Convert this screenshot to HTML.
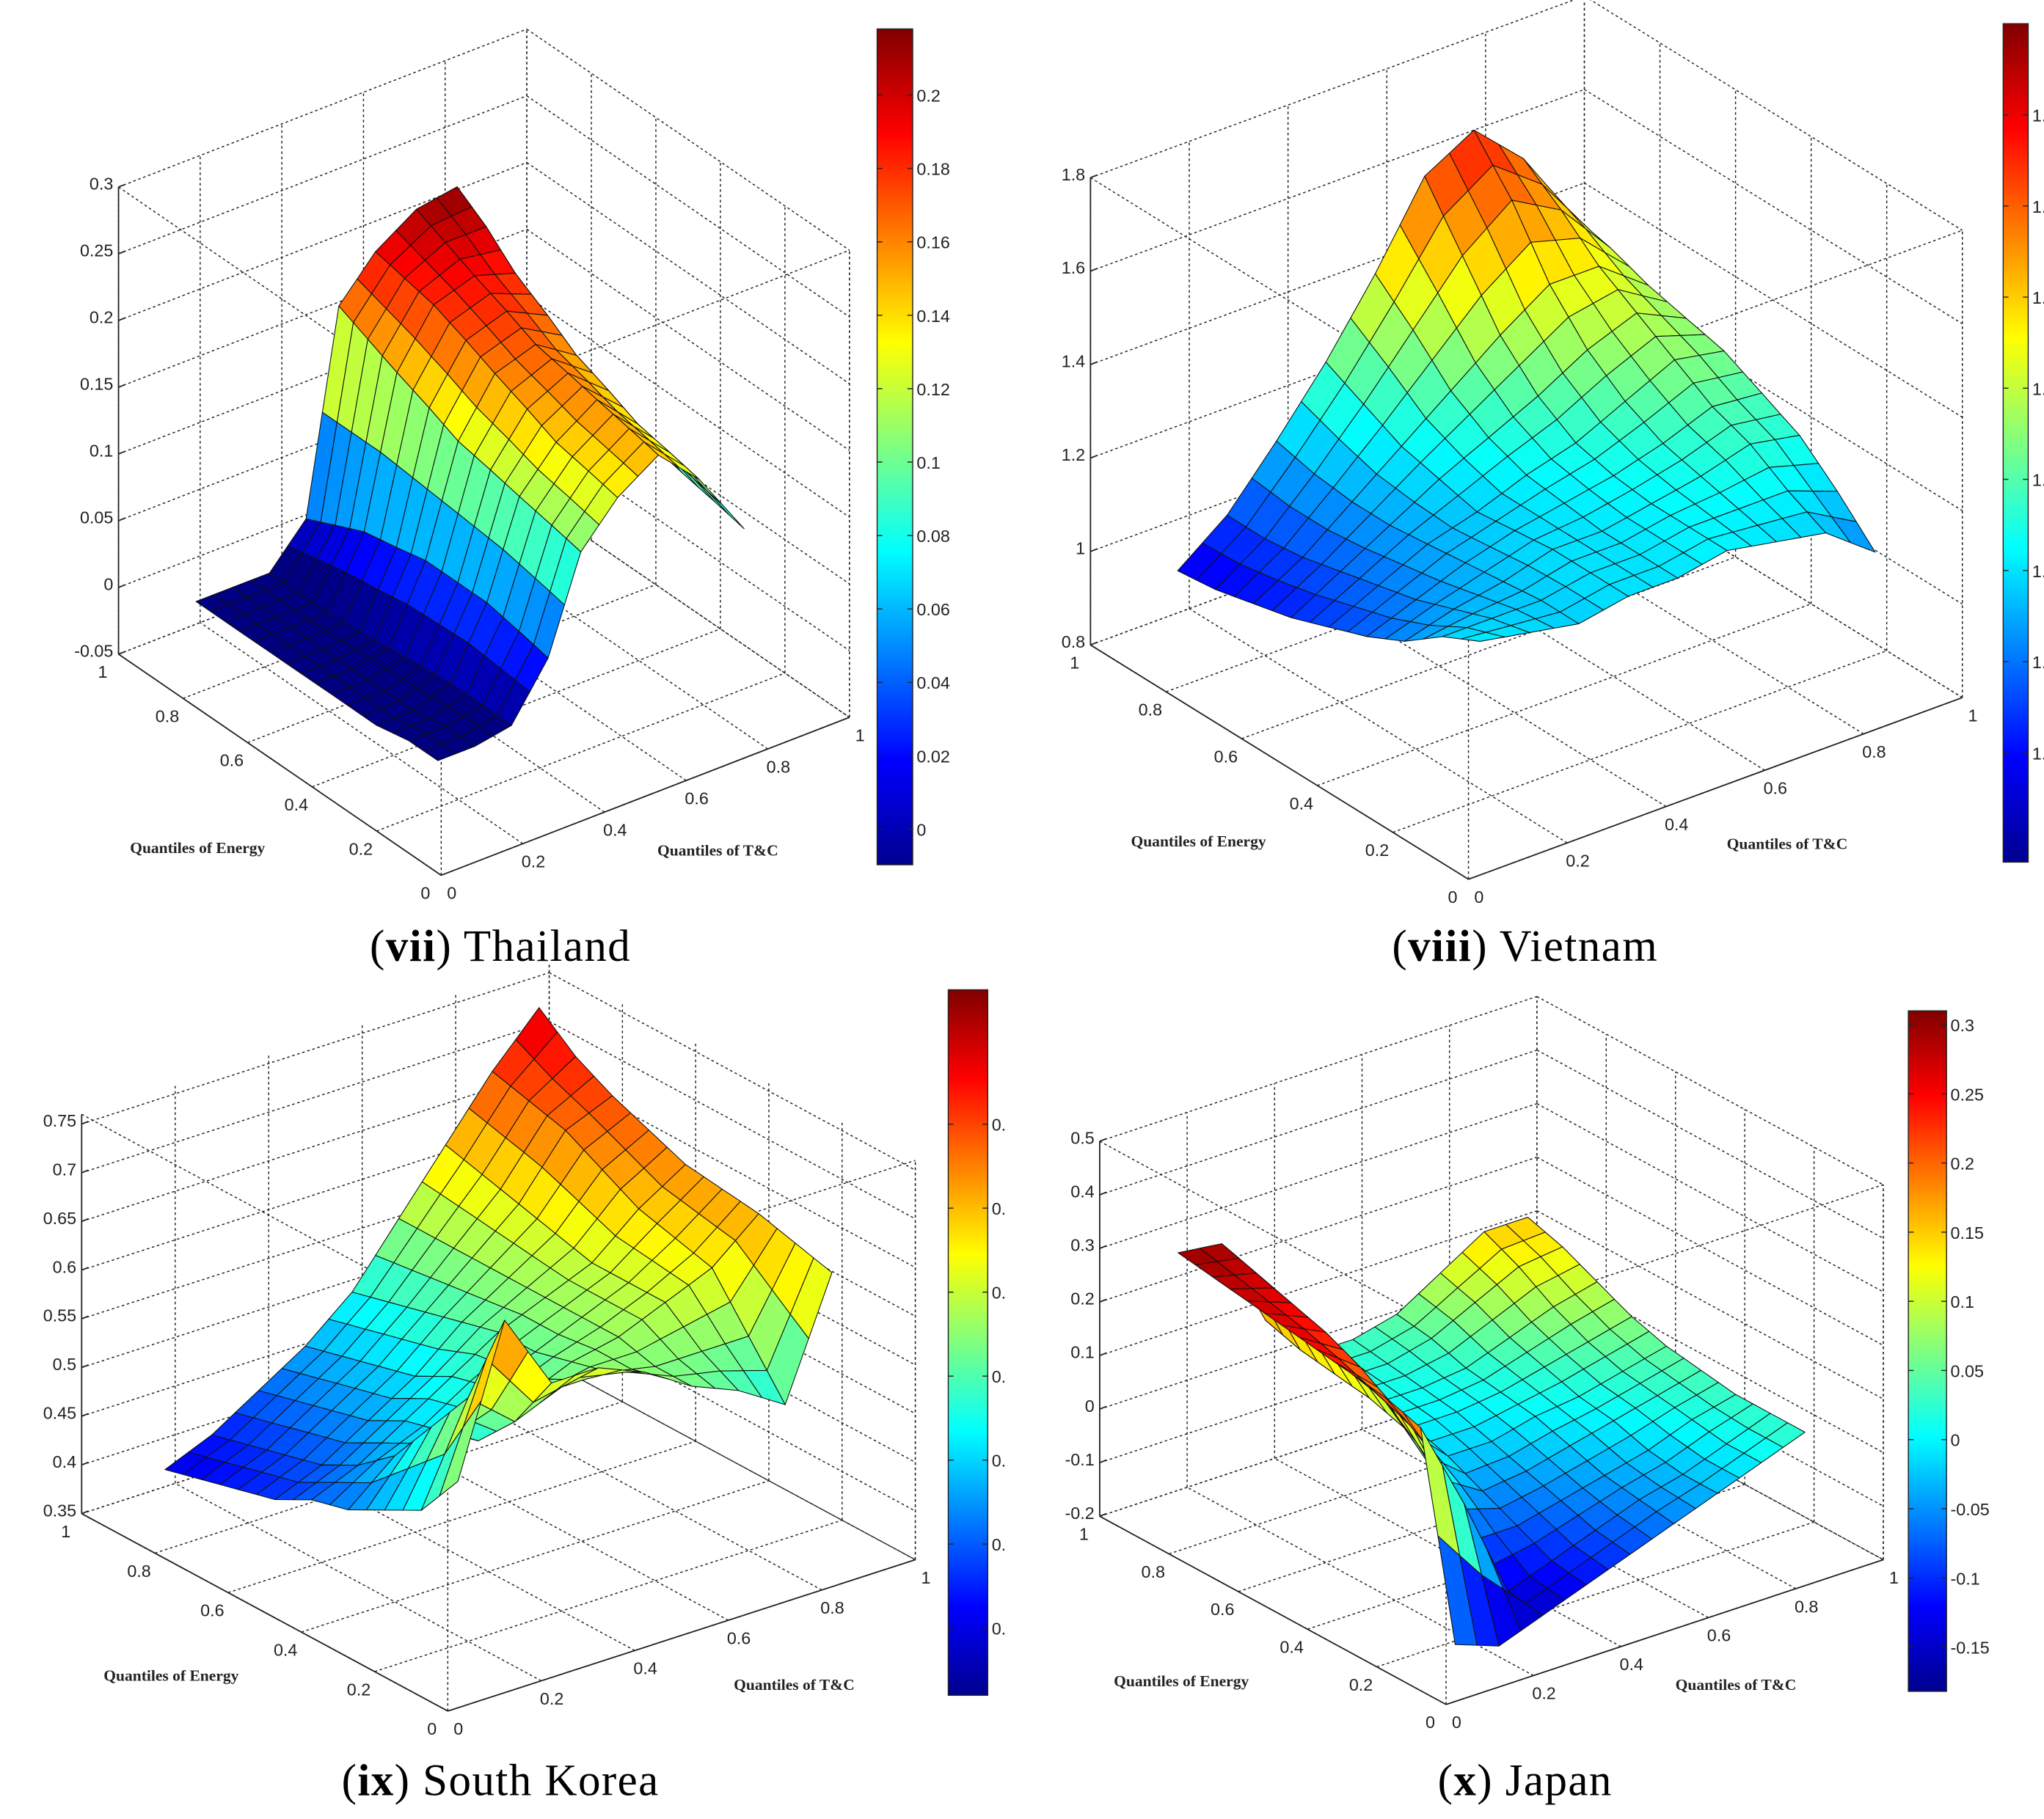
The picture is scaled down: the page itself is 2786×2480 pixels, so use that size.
<!DOCTYPE html>
<html><head><meta charset="utf-8">
<style>
html,body{margin:0;padding:0;background:#fff;}
svg{display:block;}
.tk{font-family:"Liberation Sans",sans-serif;font-size:13px;fill:#222;}
.ti{font-family:"Liberation Serif",serif;font-size:12px;font-weight:bold;fill:#222;}
.cap{font-family:"Liberation Serif",serif;font-size:34px;fill:#000;letter-spacing:0.8px;}
</style></head>
<body>
<svg id="fig" width="2786" height="2480" viewBox="0 0 1552 1382" preserveAspectRatio="none" xmlns="http://www.w3.org/2000/svg">
<defs>
<linearGradient id="jetg" x1="0" y1="1" x2="0" y2="0">
<stop offset="0" stop-color="#00008f"/><stop offset="0.125" stop-color="#0000ff"/>
<stop offset="0.375" stop-color="#00ffff"/><stop offset="0.625" stop-color="#ffff00"/>
<stop offset="0.875" stop-color="#ff0000"/><stop offset="1" stop-color="#800000"/>
</linearGradient>
</defs>
<text class="cap" x="380" y="730" text-anchor="middle">(<tspan font-weight="bold">vii</tspan>) Thailand</text>
<text class="cap" x="1158" y="730" text-anchor="middle">(<tspan font-weight="bold">viii</tspan>) Vietnam</text>
<text class="cap" x="380" y="1364" text-anchor="middle">(<tspan font-weight="bold">ix</tspan>) South Korea</text>
<text class="cap" x="1158" y="1364" text-anchor="middle">(<tspan font-weight="bold">x</tspan>) Japan</text>
</svg>
<script>
// ---------- data ----------
const quantTicks=[0,0.2,0.4,0.6,0.8,1];
const quantTickLabels=['0','0.2','0.4','0.6','0.8','1'];

const thaiEnergyQ=[0.2,0.29,0.39,0.48,0.58,0.67,0.77,0.86,0.95];
const thaiTcQ=[0.15,0.24,0.33,0.42,0.5,0.59,0.69,0.79,0.9];
const thaiZ=[
[-0.015,-0.015,-0.01,0.03,0.10,0.13,0.15,0.12,0.07],
[-0.015,-0.015,-0.01,0.035,0.105,0.135,0.155,0.125,0.075],
[-0.02,-0.02,-0.01,0.04,0.11,0.14,0.16,0.13,0.08],
[-0.02,-0.02,-0.012,0.04,0.115,0.15,0.165,0.14,0.085],
[-0.02,-0.02,-0.015,0.04,0.12,0.16,0.17,0.15,0.09],
[-0.02,-0.02,-0.018,0.035,0.13,0.17,0.18,0.165,0.095],
[-0.02,-0.02,-0.02,0.03,0.14,0.18,0.19,0.18,0.10],
[-0.02,-0.02,-0.02,0.02,0.15,0.185,0.20,0.20,0.11],
[-0.02,-0.02,-0.02,0.01,0.16,0.19,0.21,0.215,0.12]];
const thaiZTicks=[-0.05,0,0.05,0.1,0.15,0.2,0.25,0.3];
const thaiZTickLabels=['-0.05','0','0.05','0.1','0.15','0.2','0.25','0.3'];
const thaiCbarTicks=[0,0.02,0.04,0.06,0.08,0.1,0.12,0.14,0.16,0.18,0.2];
const thaiCbarLabels=['0','0.02','0.04','0.06','0.08','0.1','0.12','0.14','0.16','0.18','0.2'];

const vietEnergyQ=[0.1,0.2,0.3,0.4,0.5,0.6,0.7,0.8,0.9];
const vietTcQ=[0.1,0.2,0.3,0.4,0.5,0.6,0.7,0.8,0.9];
const vietZ=[
[1.22,1.2,1.18,1.2,1.2,1.22,1.2,1.18,1.1],
[1.18,1.18,1.18,1.2,1.2,1.22,1.22,1.22,1.18],
[1.12,1.15,1.17,1.2,1.2,1.22,1.24,1.27,1.25],
[1.08,1.12,1.16,1.19,1.21,1.23,1.26,1.3,1.29],
[1.05,1.1,1.15,1.18,1.22,1.25,1.3,1.35,1.33],
[1.02,1.08,1.14,1.2,1.25,1.3,1.36,1.4,1.35],
[1.0,1.06,1.14,1.22,1.3,1.38,1.45,1.45,1.37],
[0.98,1.05,1.15,1.26,1.38,1.5,1.58,1.52,1.4],
[0.97,1.05,1.17,1.3,1.45,1.62,1.68,1.58,1.42]];
const vietZTicks=[0.8,1,1.2,1.4,1.6,1.8];
const vietZTickLabels=['0.8','1','1.2','1.4','1.6','1.8'];
const vietCbarTicks=[1.0,1.1,1.2,1.3,1.4,1.5,1.6,1.7];
const vietCbarLabels=['1.','1.','1.','1.','1.','1.','1.','1.'];

const korEnergyQ=[0.1,0.2,0.3,0.4,0.5,0.6,0.7,0.8,0.9];
const korTcQ=[0.1,0.2,0.3,0.4,0.5,0.6,0.7,0.8,0.9];
const korZ=[
[0.55,0.70,0.62,0.62,0.6,0.57,0.55,0.52,0.64],
[0.5,0.6,0.56,0.58,0.58,0.57,0.57,0.57,0.65],
[0.48,0.55,0.52,0.55,0.57,0.58,0.6,0.62,0.66],
[0.46,0.5,0.51,0.54,0.56,0.58,0.6,0.63,0.665],
[0.45,0.47,0.5,0.53,0.56,0.58,0.6,0.64,0.67],
[0.43,0.45,0.48,0.51,0.55,0.58,0.61,0.66,0.685],
[0.42,0.44,0.47,0.5,0.54,0.58,0.62,0.68,0.70],
[0.41,0.43,0.46,0.49,0.53,0.58,0.63,0.69,0.72],
[0.40,0.42,0.45,0.48,0.52,0.58,0.64,0.70,0.75]];
const korZTicks=[0.35,0.4,0.45,0.5,0.55,0.6,0.65,0.7,0.75];
const korZTickLabels=['0.35','0.4','0.45','0.5','0.55','0.6','0.65','0.7','0.75'];
const korCbarTicks=[0.4,0.45,0.5,0.55,0.6,0.65,0.7];
const korCbarLabels=['0.','0.','0.','0.','0.','0.','0.'];

const japEnergyQ=[0.1,0.2,0.3,0.4,0.5,0.6,0.7,0.8,0.9];
const japTcQ=[0.1,0.2,0.3,0.4,0.5,0.6,0.7,0.8,0.9];
const japZ=[
[-0.15,-0.18,-0.15,-0.12,-0.09,-0.06,-0.03,0.0,0.03],
[0.22,0.05,-0.14,-0.11,-0.08,-0.05,-0.03,0.0,0.03],
[0.24,0.12,-0.08,-0.08,-0.06,-0.04,-0.02,0.01,0.03],
[0.25,0.16,0.0,-0.05,-0.04,-0.02,0.0,0.02,0.04],
[0.26,0.2,0.06,-0.02,-0.02,0.0,0.01,0.03,0.05],
[0.27,0.23,0.08,0.0,0.0,0.01,0.03,0.05,0.07],
[0.28,0.25,0.09,0.01,0.01,0.02,0.05,0.08,0.1],
[0.29,0.27,0.1,0.02,0.02,0.04,0.08,0.12,0.13],
[0.30,0.29,0.12,0.03,0.03,0.05,0.1,0.15,0.15]];
const japZTicks=[-0.2,-0.1,0,0.1,0.2,0.3,0.4,0.5];
const japZTickLabels=['-0.2','-0.1','0','0.1','0.2','0.3','0.4','0.5'];
const japCbarTicks=[-0.15,-0.1,-0.05,0,0.05,0.1,0.15,0.2,0.25,0.3];
const japCbarLabels=['-0.15','-0.1','-0.05','0','0.05','0.1','0.15','0.2','0.25','0.3'];

// ---------- layout (geometry, not data) ----------
const panels=[
 {key:'thailand',O:[335,665],Ev:[-245,-168],Tv:[310,-120],zmin:-0.05,zmax:0.3,zpx:1014,
  E:thaiEnergyQ,T:thaiTcQ,Z:thaiZ,zt:thaiZTicks,ztl:thaiZTickLabels,ct:thaiCbarTicks,ctl:thaiCbarLabels,
  cmin:-0.0097,cmax:0.218,cb:[666,22,27,635],eTitle:[150,648],tTitle:[545,650]},
 {key:'vietnam',O:[1115,668],Ev:[-287,-178],Tv:[375,-138],zmin:0.8,zmax:1.8,zpx:355,
  E:vietEnergyQ,T:vietTcQ,Z:vietZ,zt:vietZTicks,ztl:vietZTickLabels,ct:vietCbarTicks,ctl:vietCbarLabels,
  cmin:0.88,cmax:1.8,cb:[1521,18,19,637],eTitle:[910,643],tTitle:[1357,645]},
 {key:'south-korea',O:[340,1300],Ev:[-278,-150],Tv:[355,-115],zmin:0.35,zmax:0.76,zpx:740,
  E:korEnergyQ,T:korTcQ,Z:korZ,zt:korZTicks,ztl:korZTickLabels,ct:korCbarTicks,ctl:korCbarLabels,
  cmin:0.36,cmax:0.78,cb:[720,752,30,536],eTitle:[130,1277],tTitle:[603,1284]},
 {key:'japan',O:[1098,1295],Ev:[-263,-143],Tv:[332,-110],zmin:-0.2,zmax:0.5,zpx:407,
  E:japEnergyQ,T:japTcQ,Z:japZ,zt:japZTicks,ztl:japZTickLabels,ct:japCbarTicks,ctl:japCbarLabels,
  cmin:-0.182,cmax:0.31,cb:[1449,768,29,517],eTitle:[897,1281],tTitle:[1318,1284]}
];

const svg=document.getElementById('fig');
const NS='http://www.w3.org/2000/svg';
function mk(tag,attrs,name,parent){
  const el=document.createElementNS(NS,tag);
  for(const k in attrs) el.setAttribute(k,attrs[k]);
  
  
  (parent||svg).appendChild(el);
  return el;
}
function jet(v){
  v=Math.max(0,Math.min(1,v));
  const c=x=>Math.round(255*Math.max(0,Math.min(1,x)));
  return 'rgb('+c(1.5-Math.abs(4*v-3))+','+c(1.5-Math.abs(4*v-2))+','+c(1.5-Math.abs(4*v-1))+')';
}
function proj(p,e,t,z){
  return [p.O[0]+p.Ev[0]*e+p.Tv[0]*t, p.O[1]+p.Ev[1]*e+p.Tv[1]*t-(z-p.zmin)*p.zpx];
}
function ln(g,a,b,dash,name,w){
  const at={x1:a[0],y1:a[1],x2:b[0],y2:b[1],stroke:'#222','stroke-width':w||0.8};
  if(dash) at['stroke-dasharray']='2,2';
  return mk('line',at,name,g);
}
function txt(g,x,y,s,cls,anchor,name){
  const t=mk('text',{x:x,y:y,class:cls,'text-anchor':anchor||'start'},name,g);
  t.textContent=s;return t;
}
function bilin(p,u,v){
  const n=p.E.length-1,m=p.T.length-1;
  const i=Math.min(Math.floor(u),n-1),j=Math.min(Math.floor(v),m-1);
  const fu=u-i,fv=v-j;
  const z=(1-fu)*(1-fv)*p.Z[i][j]+fu*(1-fv)*p.Z[i+1][j]+(1-fu)*fv*p.Z[i][j+1]+fu*fv*p.Z[i+1][j+1];
  const e=p.E[i]+(p.E[i+1]-p.E[i])*fu, t=p.T[j]+(p.T[j+1]-p.T[j])*fv;
  return {e:e,t:t,z:z};
}

panels.forEach(p=>{
  const g=mk('g',{},'panel-'+p.key);
  const gg=mk('g',{},'grid-'+p.key,g);
  quantTicks.forEach(q=>{
    ln(gg,proj(p,q,0,p.zmin),proj(p,q,1,p.zmin),true,'floor-grid-energy');
    ln(gg,proj(p,0,q,p.zmin),proj(p,1,q,p.zmin),true,'floor-grid-tc');
    ln(gg,proj(p,1,q,p.zmin),proj(p,1,q,p.zmax),true,'wall-grid-vertical');
    ln(gg,proj(p,q,1,p.zmin),proj(p,q,1,p.zmax),true,'wall-grid-vertical');
  });
  p.zt.forEach(z=>{
    ln(gg,proj(p,1,0,z),proj(p,1,1,z),true,'wall-grid-horizontal');
    ln(gg,proj(p,1,1,z),proj(p,0,1,z),true,'wall-grid-horizontal');
  });
  ln(gg,proj(p,1,0,p.zmax),proj(p,0,0,p.zmax),true,'box-edge');
  ln(gg,proj(p,0,0,p.zmax),proj(p,0,1,p.zmax),true,'box-edge');
  ln(gg,proj(p,0,1,p.zmin),proj(p,0,1,p.zmax),true,'box-edge');
  ln(gg,proj(p,0,0,p.zmin),proj(p,0,0,p.zmax),true,'box-edge');
  ln(g,proj(p,1,0,p.zmin),proj(p,1,0,p.zmax),false,'z-axis',1);
  ln(g,proj(p,1,0,p.zmin),proj(p,0,0,p.zmin),false,'energy-axis',1);
  ln(g,proj(p,0,0,p.zmin),proj(p,0,1,p.zmin),false,'tc-axis',1);
  p.zt.forEach((z,k)=>{
    const a=proj(p,1,0,z);
    ln(g,a,[a[0]+5,a[1]-2],false,'z-tick',1);
    txt(g,a[0]-4,a[1]+2,p.ztl[k],'tk','end','z-tick-label');
  });
  quantTicks.forEach((q,k)=>{
    const a=proj(p,q,0,p.zmin);
    txt(g,a[0]-12,a[1]+18,quantTickLabels[k],'tk','middle','energy-tick-label');
    const b=proj(p,0,q,p.zmin);
    txt(g,b[0]+8,b[1]+18,quantTickLabels[k],'tk','middle','tc-tick-label');
  });
  txt(g,p.eTitle[0],p.eTitle[1],'Quantiles of Energy','ti','middle','energy-axis-title');
  txt(g,p.tTitle[0],p.tTitle[1],'Quantiles of T&C','ti','middle','tc-axis-title');
  const sg=mk('g',{},'surface-'+p.key,g);
  const S=2,n=p.E.length-1,m=p.T.length-1,quads=[];
  for(let a=0;a<n*S;a++)for(let b=0;b<m*S;b++){
    const c=[[a,b],[a+1,b],[a+1,b+1],[a,b+1]].map(q=>bilin(p,q[0]/S,q[1]/S));
    const pts=c.map(q=>proj(p,q.e,q.t,q.z));
    const zc=(c[0].z+c[1].z+c[2].z+c[3].z)/4;
    const ec=(c[0].e+c[2].e)/2,tc=(c[0].t+c[2].t)/2;
    quads.push({pts:pts,zc:zc,d:proj(p,ec,tc,p.zmin)[1]});
  }
  quads.sort((x,y)=>x.d-y.d);
  quads.forEach(q=>{
    mk('polygon',{points:q.pts.map(v=>v[0].toFixed(1)+','+v[1].toFixed(1)).join(' '),
      fill:jet((q.zc-p.cmin)/(p.cmax-p.cmin)),stroke:'#111','stroke-width':0.6,'stroke-linejoin':'round'},'surface-patch',sg);
  });
  const cg=mk('g',{},'colorbar-'+p.key,g);
  const [cx,cy,cw,ch]=p.cb;
  mk('rect',{x:cx,y:cy,width:cw,height:ch,fill:'url(#jetg)',stroke:'#222','stroke-width':0.8},'colorbar-gradient',cg);
  p.ct.forEach((v,k)=>{
    const y=cy+ch-(v-p.cmin)/(p.cmax-p.cmin)*ch;
    ln(cg,[cx,y],[cx+4,y],false,'colorbar-tick',0.8);
    ln(cg,[cx+cw-4,y],[cx+cw,y],false,'colorbar-tick',0.8);
    txt(cg,cx+cw+3,y+5,p.ctl[k],'tk','start','colorbar-tick-label');
  });
});
</script>
</body></html>
